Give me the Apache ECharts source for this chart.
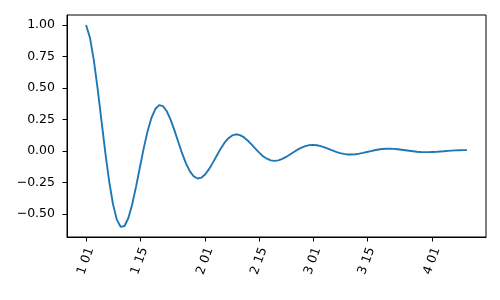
<!DOCTYPE html>
<html>
<head>
<meta charset="utf-8">
<script src="https://cdn.jsdelivr.net/npm/echarts@6/dist/echarts.min.js"></script>
<style>html,body{margin:0;padding:0;background:#fff}#c{width:500px;height:300px}</style>
</head>
<body>
<div id="c"></div>
<script>
// Day offsets from Jan 1 (one sample per day, Jan 1 .. Apr 10)
const days = Array.from({length: 100}, (_, i) => i);
const values = [
  1.000, 0.902, 0.726, 0.497, 0.242, -0.012, -0.240, -0.422, -0.546, -0.604,
  -0.597, -0.533, -0.424, -0.284, -0.130, 0.022, 0.157, 0.263, 0.333, 0.364,
  0.356, 0.315, 0.247, 0.161, 0.069, -0.022, -0.101, -0.163, -0.203, -0.219,
  -0.212, -0.186, -0.143, -0.091, -0.036, 0.018, 0.065, 0.101, 0.123, 0.132,
  0.126, 0.109, 0.083, 0.052, 0.018, -0.014, -0.042, -0.062, -0.075, -0.079,
  -0.075, -0.064, -0.048, -0.029, -0.009, 0.010, 0.026, 0.038, 0.046, 0.048,
  0.045, 0.038, 0.028, 0.016, 0.004, -0.007, -0.017, -0.024, -0.028, -0.029,
  -0.027, -0.022, -0.016, -0.009, -0.002, 0.005, 0.011, 0.015, 0.017, 0.017,
  0.016, 0.013, 0.009, 0.005, 0.001, -0.003, -0.007, -0.009, -0.010, -0.010,
  -0.009, -0.008, -0.005, -0.003, 0.000, 0.002, 0.004, 0.005, 0.006, 0.006
];
const xTickDays = [0, 14, 31, 45, 59, 73, 90];
const xTickLabels = ['1 01', '1 15', '2 01', '2 15', '3 01', '3 15', '4 01'];
const yTicks = [-0.5, -0.25, 0, 0.25, 0.5, 0.75, 1.0];

const xSpan = days[days.length - 1] - days[0];
const yMaxV = Math.max(...values), yMinV = Math.min(...values);
const ySpan = yMaxV - yMinV;

const font = 'DejaVu Sans';
const chart = echarts.init(document.getElementById('c'), null, {renderer: 'canvas'});
chart.setOption({
  animation: false,
  grid: {left: 67, right: 14, top: 15, bottom: 63, show: true, borderColor: '#000', borderWidth: 1, containLabel: false},
  xAxis: {
    type: 'value',
    min: days[0] - 0.05 * xSpan,
    max: days[days.length - 1] + 0.05 * xSpan,
    splitLine: {show: false},
    axisLine: {show: true, onZero: false, lineStyle: {color: '#000', width: 1}},
    axisTick: {show: true, length: 4.5, lineStyle: {color: '#000', width: 1}, customValues: xTickDays},
    axisLabel: {
      customValues: xTickDays,
      rotate: 70,
      align: 'center',
      verticalAlign: 'middle',
      margin: 23,
      padding: [0, 2, 6, 0],
      fontFamily: font,
      fontSize: 12.5,
      color: '#000',
      formatter: v => { const k = xTickDays.indexOf(v); return k >= 0 ? xTickLabels[k] : ''; }
    }
  },
  yAxis: {
    type: 'value',
    min: yMinV - 0.05 * ySpan,
    max: yMaxV + 0.05 * ySpan,
    splitLine: {show: false},
    axisLine: {show: true, onZero: false, lineStyle: {color: '#000', width: 1}},
    axisTick: {show: true, length: 4.5, lineStyle: {color: '#000', width: 1}, customValues: yTicks},
    axisLabel: {
      customValues: yTicks,
      margin: 12,
      fontFamily: font,
      fontSize: 12.5,
      color: '#000',
      formatter: v => (v < 0 ? '\u2212' : '') + Math.abs(v).toFixed(2)
    }
  },
  series: [{
    type: 'line',
    data: days.map((d, i) => [d, values[i]]),
    showSymbol: false,
    smooth: false,
    lineStyle: {color: '#1f77b4', width: 1.9},
    itemStyle: {color: '#1f77b4'}
  }]
});
</script>
</body>
</html>
